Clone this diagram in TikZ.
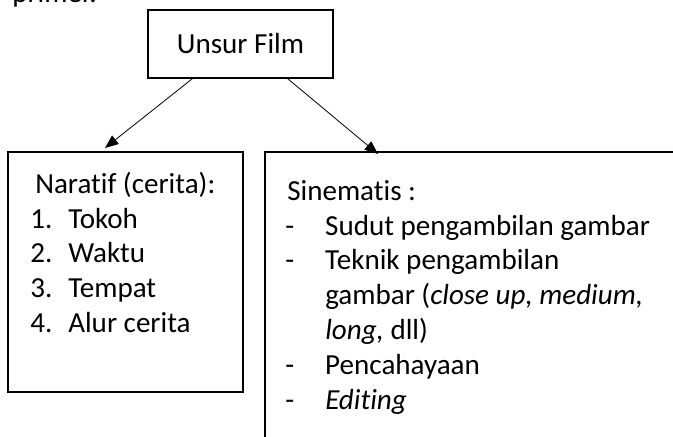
\documentclass[tikz,border=0pt]{standalone}
\usepackage{fontspec}
\setmainfont{Carlito}[Ligatures=NoCommon]
\usepackage{tikz}
\usetikzlibrary{arrows.meta,calc,positioning,fit}
\tikzset{
  kotak/.style={
    rectangle,
    draw=black, line width=1.1pt,
    inner sep=0pt},
  teks/.style={
    inner sep=0pt,
    anchor=base west},
  panah/.style={draw, line width=0.6pt, -{Triangle[length=10pt,width=8pt]}},
}

\begin{document}
\begin{tikzpicture}[
    x=0.75pt, y=-0.75pt,
    every node/.style={color=black, font=\fontsize{21.8}{26.1}\selectfont}
    ]
    \useasboundingbox (0,0) rectangle (673,436);
    \clip (0,0) rectangle (673,436);

    % sisa teks dari atas
    \node[teks] (primer) at (12,2) {primer.};

    % kotak-kotak
    \node[kotak, minimum width=138.75pt, minimum height=51pt] (film) at (240.5,44) {Unsur Film};
    \node[kotak, fit={(8,152) (243,392)}] (naratif) {};
    \node[kotak, fit={(265,152) (720,480)}] (sinematis) {};

    % panah
    \coordinate (ujungkiri) at (105,148);
    \coordinate (ujungkanan) at (378,154);
    \draw[panah] ($(film.south west)+(45,0)$) -- (ujungkiri);
    \draw[panah] ($(film.south east)+(-46,0)$) -- (ujungkanan);

    % isi kotak naratif
    \node[teks] (judulnaratif) at (35,193) {Naratif (cerita):};
    \node[teks] (daftarnaratif) at (30,228)
         {\begin{tabular}[t]{@{}p{28.5pt}@{}l@{}}
          1. & Tokoh\\
          2. & Waktu\\
          3. & Tempat\\
          4. & Alur cerita
          \end{tabular}};

    % isi kotak sinematis
    \node[teks] (judulsinematis) at (287,200) {Sinematis :};
    \node[teks] (daftarsinematis) at (285,235)
         {\begin{tabular}[t]{@{}p{30pt}@{}l@{}}
          - & Sudut pengambilan gambar\\
          - & Teknik pengambilan\\
            & gambar (\textit{close up, medium,}\\
            & \textit{long,} dll)\\
          - & Pencahayaan\\
          - & \textit{Editing}
          \end{tabular}};

\end{tikzpicture}
\end{document}
